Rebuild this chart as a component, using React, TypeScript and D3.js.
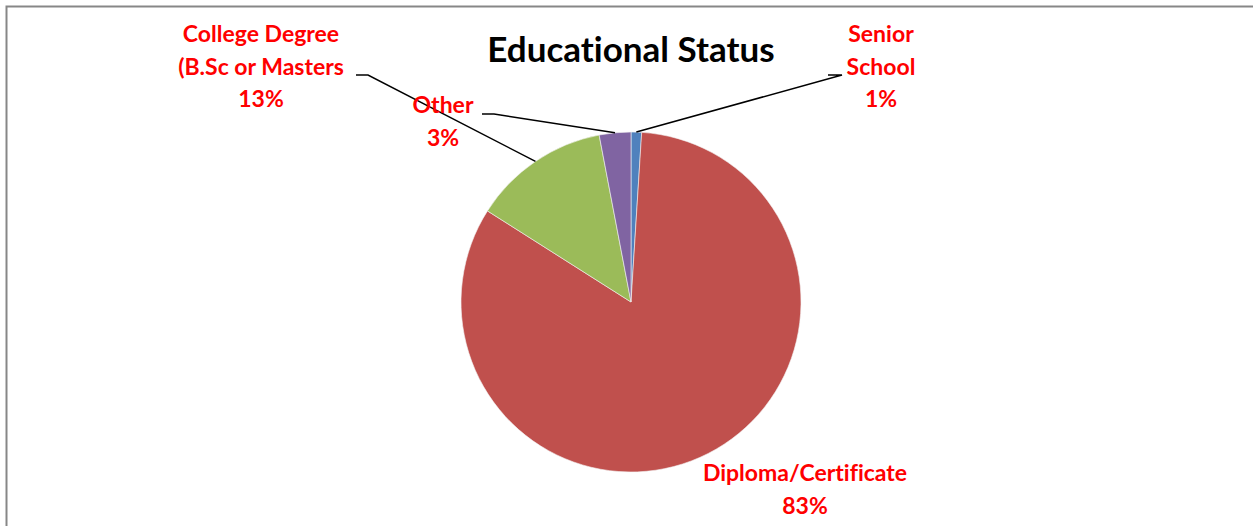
import * as d3 from 'd3';
import React, { useEffect, useRef } from 'react';

const categories = ['Senior School', 'Diploma/Certificate', 'College Degree', 'Other'];
const values = [1, 83, 13, 3];
const labelLines = [
  ['Senior', 'School', '1%'],
  ['Diploma/Certificate', '83%'],
  ['College Degree', '(B.Sc or Masters', '13%'],
  ['Other', '3%'],
];
const colors = ['#4F81BD', '#C0504D', '#9BBB59', '#8064A2'];

// label layout: centre x, first baseline y, leader side (null = no leader)
const labelLayout = [
  { x: 881, y: 42, leaderY: 75, side: 'right', tipX: 828, elbowX: 842 },
  { x: 805, y: 481, leaderY: null, side: null, tipX: 0, elbowX: 0 },
  { x: 261, y: 42, leaderY: 75, side: 'left', tipX: 356, elbowX: 368 },
  { x: 443, y: 113, leaderY: 114, side: 'left', tipX: 482, elbowX: 494 },
];

export default function App() {
  const svgRef = useRef(null);
  const width = 1253;
  const height = 526;

  useEffect(() => {
    const svg = d3.select(svgRef.current);
    svg.selectAll('*').remove();

    svg
      .append('rect')
      .attr('x', 6.5)
      .attr('y', 6.5)
      .attr('width', width + 20)
      .attr('height', height + 20)
      .attr('fill', 'white')
      .attr('stroke', '#878787')
      .attr('stroke-width', 2);

    const cx = 631;
    const cy = 302;
    const r = 170;

    const data = categories.map((c, i) => ({ name: c, value: values[i], i }));
    const pie = d3.pie().value((d) => d.value).sort(null);
    const arcs = pie(data);
    const arc = d3.arc().innerRadius(0).outerRadius(r);

    const g = svg.append('g').attr('transform', `translate(${cx},${cy})`);
    g.selectAll('path')
      .data(arcs)
      .enter()
      .append('path')
      .attr('d', arc)
      .attr('fill', (d) => colors[d.data.i])
      .attr('stroke', '#f4f4f4')
      .attr('stroke-width', 0.6);

    svg
      .append('text')
      .attr('x', cx)
      .attr('y', 62)
      .attr('text-anchor', 'middle')
      .style('font-family', 'Lato, "Open Sans", sans-serif')
      .style('font-weight', 'bold')
      .style('font-size', '35px')
      .style('font-variant-ligatures', 'none')
      .style('fill', '#000')
      .text('Educational Status');

    // leader lines
    arcs.forEach((d) => {
      const lay = labelLayout[d.data.i];
      if (!lay.side) return;
      const mid = (d.startAngle + d.endAngle) / 2;
      const px = cx + r * Math.sin(mid);
      const py = cy - r * Math.cos(mid);
      svg
        .append('polyline')
        .attr('points', `${lay.tipX},${lay.leaderY} ${lay.elbowX},${lay.leaderY} ${px},${py}`)
        .attr('fill', 'none')
        .attr('stroke', '#000')
        .attr('stroke-width', 1.5);
    });

    // labels
    arcs.forEach((d) => {
      const lay = labelLayout[d.data.i];
      const t = svg
        .append('text')
        .attr('text-anchor', 'middle')
        .style('font-family', 'Lato, "Open Sans", sans-serif')
        .style('font-weight', 'bold')
        .style('font-size', '23px')
        .style('font-variant-ligatures', 'none')
        .style('fill', '#FF0000');
      labelLines[d.data.i].forEach((line, k) => {
        t.append('tspan')
          .attr('x', lay.x)
          .attr('y', lay.y + k * 32.5)
          .text(line);
      });
    });
  }, []);

  return (
    <svg
      ref={svgRef}
      width={width}
      height={height}
      style={{ position: 'absolute', left: 0, top: 0, display: 'block' }}
    ></svg>
  );
}
